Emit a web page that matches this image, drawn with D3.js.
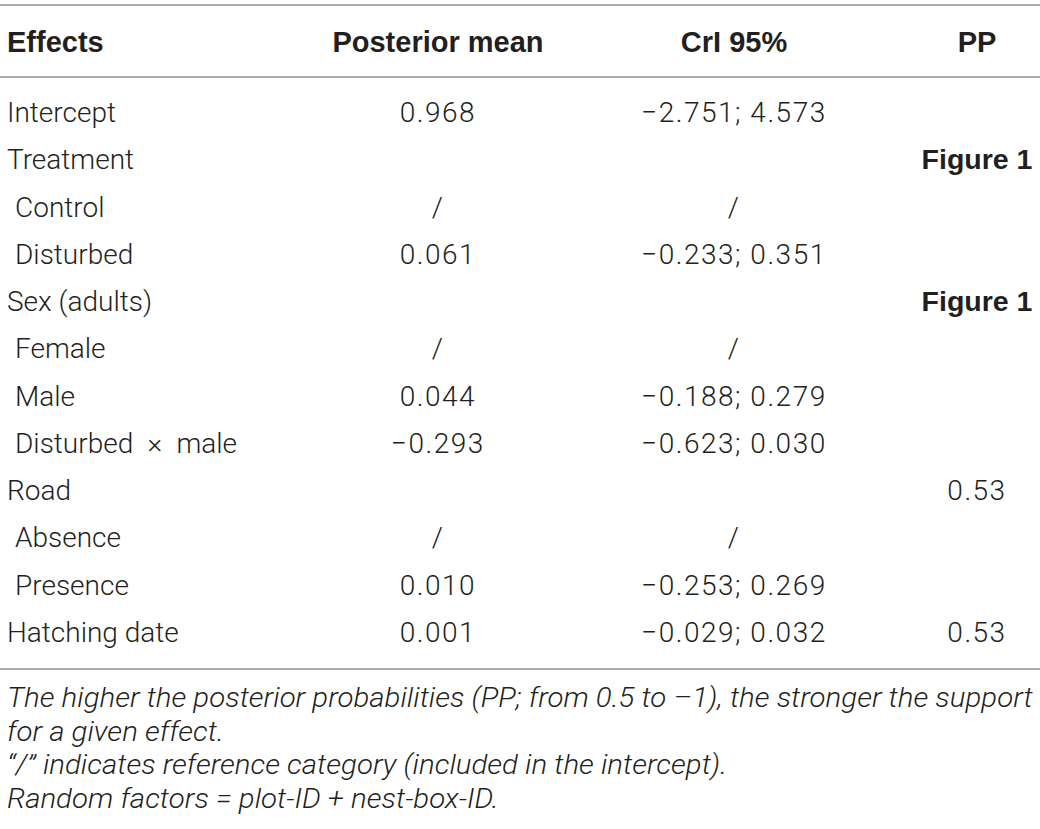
<!DOCTYPE html>
<html lang="en">
<head>
    <meta charset="UTF-8">
    <title>Posterior estimates table</title>
    <script src="https://d3js.org/d3.v7.min.js"></script>
    <style>
        body{ margin: 0; background: white; }
        .cell{ font-family: Roboto, "Liberation Sans", sans-serif; font-weight: 300; fill: #231f20; }
        .num{ letter-spacing: 1.5px; }
        .head{ font-family: "Liberation Sans", Arial, sans-serif; font-weight: bold; fill: #231f20; }
        .note{ font-family: Roboto, "Liberation Sans", sans-serif; font-weight: 300; font-style: italic; fill: #231f20; }
        .rule{ stroke: #a7a9ac; stroke-width: 2px; }
    </style>
</head>
<body>
<svg id="canvas" width="1040" height="829"></svg>
<script>
    // table content
    let headers = ["Effects", "Posterior mean", "CrI 95%", "PP"];
    let effects = ["Intercept", "Treatment", "Control", "Disturbed", "Sex (adults)", "Female", "Male",
                   "Disturbed\u2002\u00d7\u2002male", "Road", "Absence", "Presence", "Hatching date"];
    let indented = [false, false, true, true, false, true, true, true, false, true, true, false];
    let means = ["0.968", "", "/", "0.061", "", "/", "0.044", "\u22120.293", "", "/", "0.010", "0.001"];
    let cris = ["\u22122.751; 4.573", "", "/", "\u22120.233; 0.351", "", "/", "\u22120.188; 0.279",
                "\u22120.623; 0.030", "", "/", "\u22120.253; 0.269", "\u22120.029; 0.032"];
    let pps = ["", "Figure 1", "", "", "Figure 1", "", "", "", "0.53", "", "", "0.53"];
    let notes = ["The higher the posterior probabilities (PP; from 0.5 to \u20131), the stronger the support",
                 "for a given effect.",
                 "\u201c/\u201d indicates reference category (included in the intercept).",
                 "Random factors = plot-ID + nest-box-ID."];

    let svg = d3.select('#canvas');
    let fontSize = 28;
    let headSize = 29;

    // column centres (first column is left aligned)
    let colX = d3.scaleOrdinal().domain(headers).range([7, 438, 734, 977]);
    let rowY = d3.scalePoint().domain(d3.range(effects.length)).range([112, 632]);

    // rules
    svg.selectAll('line.rule')
        .data([5, 77, 669])
        .enter()
        .append('line')
        .attr('class', 'rule')
        .attr('x1', 0).attr('x2', 1040)
        .attr('y1', d => d).attr('y2', d => d);

    // header
    svg.append('g').selectAll('text')
        .data(headers)
        .enter()
        .append('text')
        .attr('class', 'head')
        .attr('x', d => colX(d))
        .attr('y', 52)
        .attr('font-size', headSize)
        .attr('text-anchor', (d, i) => i === 0 ? 'start' : 'middle')
        .text(d => d);

    // body rows
    let rows = svg.append('g').selectAll('g')
        .data(effects)
        .enter()
        .append('g')
        .attr('transform', (d, i) => `translate(0,${rowY(i) + 10})`);

    rows.append('text')
        .attr('class', 'cell')
        .attr('font-size', fontSize)
        .attr('x', (d, i) => colX(headers[0]) + (indented[i] ? 8 : 0))
        .text(d => d);
    rows.append('text')
        .attr('class', 'cell num')
        .attr('font-size', fontSize)
        .attr('text-anchor', 'middle')
        .attr('x', colX(headers[1]))
        .text((d, i) => means[i]);
    rows.append('text')
        .attr('class', 'cell num')
        .attr('font-size', fontSize)
        .attr('text-anchor', 'middle')
        .attr('x', colX(headers[2]))
        .text((d, i) => cris[i]);
    rows.append('text')
        .attr('class', (d, i) => pps[i].startsWith('Figure') ? 'head' : 'cell num')
        .attr('font-size', (d, i) => pps[i].startsWith('Figure') ? 28.5 : fontSize)
        .attr('text-anchor', 'middle')
        .attr('x', colX(headers[3]))
        .text((d, i) => pps[i]);

    // footnotes, scaled so the first line spans the table width
    let noteY = d3.scalePoint().domain(d3.range(notes.length)).range([707, 808]);
    let noteG = svg.append('g');
    let noteText = noteG.selectAll('text')
        .data(notes)
        .enter()
        .append('text')
        .attr('class', 'note')
        .attr('x', 0)
        .attr('y', (d, i) => noteY(i))
        .attr('font-size', 27)
        .text(d => d);
    let firstLen = noteText.node().getComputedTextLength();
    noteG.attr('transform', `translate(7,0) scale(${1026 / firstLen},1)`);
</script>
</body>
</html>
